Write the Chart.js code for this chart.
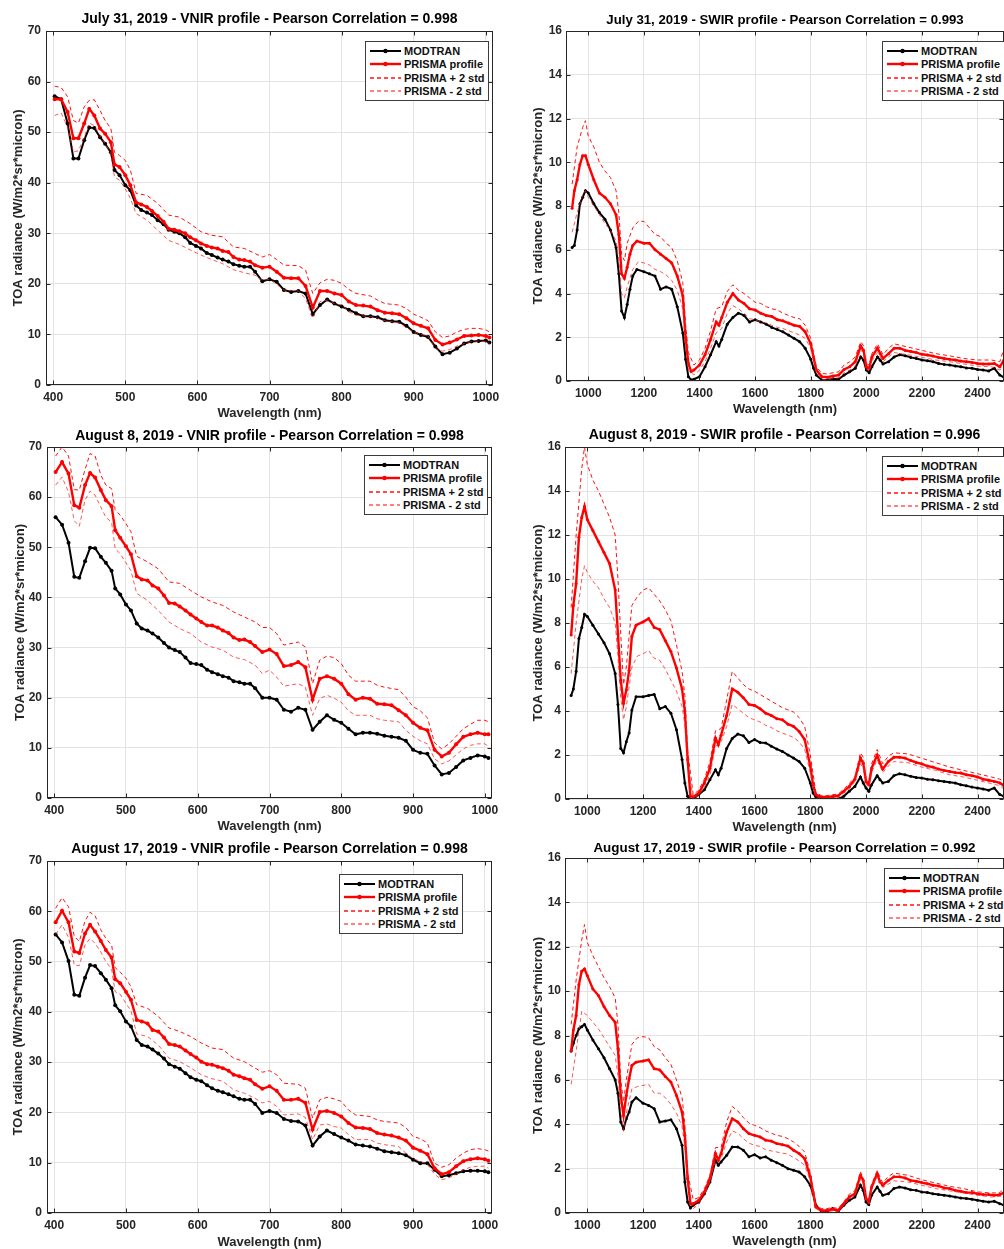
<!DOCTYPE html>
<html><head><meta charset="utf-8">
<script src="https://cdn.jsdelivr.net/npm/chart.js@4.4.0/dist/chart.umd.min.js"></script>
<style>
html,body{margin:0;padding:0;background:#fff;overflow:hidden;width:1004px;height:1249px;position:relative;}
canvas{position:absolute;}
.legend{position:absolute;background:#fff;border:1px solid #3c3c3c;padding:2px 3px 2px 4px;font:bold 11px "Liberation Sans",Arial,sans-serif;color:#111;white-space:nowrap;z-index:5;}
.legend .row{height:13.5px;display:flex;align-items:center;}
.legend svg{margin-right:3px;flex:none;}
</style></head><body>
<script>
// ---------------- DATA ----------------
const panelTitles = [
  'July 31, 2019 - VNIR profile - Pearson Correlation = 0.998',
  'July 31, 2019 - SWIR profile - Pearson Correlation = 0.993',
  'August 8, 2019 - VNIR profile - Pearson Correlation = 0.998',
  'August 8, 2019 - SWIR profile - Pearson Correlation = 0.996',
  'August 17, 2019 - VNIR profile - Pearson Correlation = 0.998',
  'August 17, 2019 - SWIR profile - Pearson Correlation = 0.992'
];
const legendLabels = ['MODTRAN', 'PRISMA profile', 'PRISMA + 2 std', 'PRISMA - 2 std'];
const xAxisTitle = 'Wavelength (nm)';
const yAxisTitle = 'TOA radiance (W/m2*sr*micron)';
const vnirXTicks = [400, 500, 600, 700, 800, 900, 1000];
const vnirYTicks = [0, 10, 20, 30, 40, 50, 60, 70];
const swirXTicks = [1000, 1200, 1400, 1600, 1800, 2000, 2200, 2400];
const swirYTicks = [0, 2, 4, 6, 8, 10, 12, 14, 16];

const vnirWavelength = [402,411,420,428,435,443,450,457,465,472,480,
  485,492,500,507,515,522,530,537,545,553,560,568,575,583,590,598,605,613,620,628,635,643,650,658,665,673,680,
  690,700,710,720,730,740,750,760,770,780,790,800,810,820,830,840,850,860,870,880,890,900,910,920,930,940,950,960,970,980,990,1000,
  1005];
const vnirWavelengthStd = [402,411,420,428,435,443,450,457,465,472,480,
  485,492,500,507,515,
  530,545,560,575,590,605,620,635,650,665,680,
  690,700,710,720,
  740,750,760,770,780,790,800,810,820,
  840,850,860,
  880,890,900,910,920,930,940,950,960,970,980,990,1000,
  1005];
const swirWavelength = [942,950,960,970,980,990,1000,
  1020,1040,1060,1080,1100,
  1110,1120,1130,1140,1150,1160,1175,
  1200,1220,1240,1260,1280,1300,1320,1340,
  1350,1360,1370,1380,
  1400,1420,1440,1460,1470,1480,
  1500,1520,1540,1560,1580,1600,1620,1640,1660,1680,1700,1720,1740,1760,1780,
  1800,1810,1820,
  1840,1860,1880,1900,1920,1940,1960,1980,
  1990,2000,2010,2020,
  2040,2050,2060,
  2080,2100,2120,2140,2160,2180,2200,2220,2240,2260,2280,2300,2320,2340,2360,2380,2400,2420,2440,2460,2480,
  2495];
const swirWavelengthStd = [942,960,980,990,1000,
  1020,1040,1060,1080,1100,
  1110,1120,1130,1140,
  1160,1180,1200,1220,1240,1260,1280,1300,1320,1340,
  1350,1360,
  1380,1400,1420,1440,1460,1480,1500,1520,1540,1560,1580,1600,1620,1640,1660,1680,1700,1720,1740,1760,1780,
  1800,1820,1840,1860,1880,1900,1920,1940,1960,1980,
  1990,2000,2010,2020,
  2040,2060,2080,2100,
  2150,2200,2250,2300,2350,2400,2450,
  2480,2495];

// July 31 VNIR
const jul31VnirModtran = [57.1,56.5,51.7,44.8,44.8,48.4,50.9,50.8,49,47.7,46,
  42.5,41.5,39.5,38.5,35.5,34.6,34.1,33.6,32.6,31.8,30.7,30.3,30,29.2,28.1,27.5,27,26.1,25.7,25.2,24.8,24.4,23.9,23.6,23.4,23.4,22.4,
  20.5,20.9,20.4,18.8,18.4,18.6,18.1,14,15.8,16.9,16.1,15.5,14.9,14.2,13.6,13.6,13.4,12.8,12.6,12.5,11.7,10.5,9.9,9.5,7.6,6.1,6.4,7.2,8.2,8.6,8.7,8.8,
  8.4];
const jul31VnirPrisma = [56.5,56.5,54,48.8,48.8,51.7,54.6,53.3,50.7,49.7,48,
  43.6,43.1,41.5,39.5,36.1,35.7,35.2,34.4,33.4,32.3,30.9,30.7,30.4,30,29.2,28.6,28,27.5,27.2,27,26.5,26.3,25.3,24.8,24.7,24.4,23.7,
  23.2,23.4,22.4,21.2,21.1,21.1,19.6,15.3,18.6,18.6,18.1,17.8,16.5,15.8,15.7,15.5,14.8,14.3,14.2,14,13.2,12.2,11.7,11.2,8.9,8,8.4,9,9.7,9.8,9.9,9.7,
  9.4];
const jul31VnirPlus2std = [59.1,58.8,57,52.3,51.8,55,56.3,56.4,54.3,52.3,50.7,
  46,45.4,44.4,42.5,37.9,
  37.5,35.9,33.6,33.2,31.9,30.3,29.6,29.3,27.3,27,26,
  25.3,25.8,24.8,23.7,
  23.6,22.7,18.1,20.2,20.9,20.7,20.1,18.9,18.1,
  17.6,16.8,16.1,
  15.8,15.1,14,13.4,12.7,10.5,9.4,9.7,10.5,11,11.2,11.2,10.9,
  10.5];
const jul31VnirMinus2std = [53.3,53.8,51,46.1,46.3,49,51.8,51.3,49.4,47.7,45.8,
  41.1,40.5,38.8,36.9,33.9,
  32.6,30.6,28.6,27.8,26.7,25.7,24.8,24,22.8,22.2,21.7,
  20.7,20.9,19.9,18.8,
  18.6,17.1,13.2,16.5,16.8,16.1,15.8,14.5,13.8,
  13.5,13.2,12.7,
  12.3,11.3,10.5,10,9.7,7.2,6.7,7,7.7,8.2,8.6,8.7,8.6,
  8.2];

// August 8 VNIR
const aug08VnirModtran = [56,54.5,50.9,44.1,43.9,47.2,49.9,49.8,48.1,46.9,45.3,
  41.8,40.6,38.6,37.4,34.8,33.8,33.4,32.8,32,30.9,30,29.5,29.1,28,26.9,26.7,26.5,25.6,25.1,24.7,24.3,24,23.3,23.1,22.8,22.8,21.9,
  20,20,19.6,17.6,17.2,18,17.6,13.6,15.2,16.5,15.6,15,13.8,12.7,13,13,12.8,12.4,12.2,12,11.4,9.6,9,8.8,6.5,4.7,5,6.2,7.5,8,8.5,8.3,
  8];
const aug08VnirPrisma = [65,67,64.7,58.4,57.9,62.4,64.8,63.9,61.4,59.4,58.2,
  53.4,51.9,50.2,48.6,44.2,43.6,43.4,42.4,41.8,40.4,38.9,38.8,38.2,37.4,36.6,35.8,35.1,34.4,34.4,34,33.4,32.9,32,31.5,31.6,31.1,30.3,
  29.1,29.6,28.7,26.3,26.5,27.1,26.1,19.6,23.8,24.3,23.8,22.8,20.7,19.6,20,19.8,18.8,18.7,18.5,17.5,16.5,15,14,13.5,9.6,8.3,9,10.7,12.2,12.7,13,12.7,
  12.7];
const aug08VnirPlus2std = [68.2,70,68.2,61.5,61.4,65.5,68.7,68.2,64.4,62.4,61.7,
  57.5,56.4,54.7,53.1,48.2,
  47.1,45.7,43.1,42.8,41.4,40.1,39.1,38.4,37.1,36.1,35.1,
  34,34,32.8,30.5,
  31.1,30.1,22.8,27.5,28.3,28,26.8,24.5,23.3,
  23.3,22.5,22.1,
  21.6,20.1,18.2,17.4,16,11,9.8,10.8,12.3,13.8,14.7,15.5,15.5,
  15.2];
const aug08VnirMinus2std = [62.4,64,61,55.3,54.2,59.4,61.2,60.4,58,56,55,
  49.7,48.7,46.9,45.3,40.8,
  39.4,37.4,35.1,33.8,32.8,31.1,30.1,29.5,28.1,27.6,26.5,
  24.8,25.5,24.1,22.3,
  22.8,22.1,16.5,19.8,20.5,19.9,19.1,17.4,16.5,
  16.5,15.8,15.5,
  15.2,13.5,12.3,11.4,10.8,7.8,6.8,7.4,8.6,9.8,10.5,10.8,10.8,
  10.3];

// August 17 VNIR
const aug17VnirModtran = [55.4,53.8,50.1,43.4,43.2,46.8,49.3,49.1,47.7,46.4,44.7,
  41.3,40.1,38.1,37.1,34.4,33.4,33.1,32.5,31.7,30.7,29.6,29.1,28.7,27.8,27,26.5,26.2,25.4,24.8,24.3,24,23.6,23.2,22.7,22.5,22.5,21.7,
  19.9,20.3,19.9,18.7,18.3,18.2,17.4,13.4,15.2,16.4,15.7,15,14.4,13.6,13.4,13.2,12.8,12.3,12.1,11.9,11.5,10.6,9.9,9.9,8.6,7.3,7.5,7.9,8.3,8.4,8.4,8.3,
  8.1];
const aug17VnirPrisma = [57.8,60.1,57.8,52,51.7,55.6,57.3,56,54.1,52.3,50.8,
  46.5,45.7,44,42.4,38.4,38.1,37.7,36.4,36.1,34.9,33.6,33.4,33.1,32.3,31.6,30.9,30.1,29.6,29.5,29.1,28.8,28.3,27.5,27.2,26.8,26.5,25.6,
  24.7,25.2,24.3,22.5,22.5,22.7,21.9,16.6,20.1,20.3,19.9,19.2,17.9,17,16.9,16.7,15.9,15.6,15.4,15,14.4,13,12.4,11.7,8.9,7.7,8.1,9.3,10.3,10.7,10.9,10.7,
  10.4];
const aug17VnirPlus2std = [60.6,62.7,60.9,55,54,58.1,59.8,59.1,56.3,54.6,53.3,
  48.8,47.9,46.7,45,41.4,
  40.7,39.1,36.8,36.1,35.1,33.8,32.8,32.5,30.8,30.1,28.8,
  28,28.3,27.5,25.8,
  25.6,24.8,18.9,22.5,23,22.7,22.2,20.5,19.5,
  19.2,18.5,18.2,
  17.9,17,15.2,14.8,13.9,9.9,9.1,9.6,10.9,11.9,12.6,12.8,12.6,
  12.3];
const aug17VnirMinus2std = [55.4,57.3,54.8,49.3,49.2,53.3,54.6,53.6,51.9,50,48.5,
  44,43.5,41.7,40.2,35.6,
  35.1,33.4,30.8,30.1,28.9,27.5,26.7,26.2,24.5,23.8,22.8,
  21.9,22.2,21.2,19.5,
  19.7,19,14.6,17.5,17.7,17.2,16.9,15.6,14.6,
  14.6,13.9,13.6,
  13.2,11.9,10.8,10.3,9.7,7.7,6.6,7,7.7,8.6,9.1,9.3,9.3,
  8.9];

// July 31 SWIR
const jul31SwirModtran = [6.1,6.2,6.9,8.1,8.4,8.7,8.6,
  8.1,7.7,7.4,6.9,6.1,
  4.9,3.2,2.9,3.5,4.2,4.8,5.1,
  5.0,4.9,4.8,4.2,4.3,4.2,3.4,2.2,
  1.0,0.2,0.05,0.08,
  0.2,0.65,1.2,1.8,1.6,1.9,
  2.6,2.9,3.1,3.0,2.7,2.8,2.7,2.6,2.45,2.35,2.25,2.1,1.95,1.8,1.5,
  1.0,0.6,0.27,
  0.05,0.05,0.1,0.08,0.27,0.42,0.58,1.1,
  0.95,0.5,0.38,0.65,
  1.1,0.95,0.78,
  0.88,1.1,1.2,1.15,1.08,1.03,0.96,0.93,0.88,0.8,0.76,0.73,0.69,0.65,0.6,0.58,0.53,0.5,0.46,0.58,0.27,
  0.17];
const jul31SwirPrisma = [7.9,8.7,9.2,9.9,10.3,10.3,9.9,
  9.2,8.6,8.4,8.1,7.6,
  6.7,4.9,4.7,5.2,5.8,6.2,6.4,
  6.3,6.3,6.0,5.8,5.6,5.4,4.8,3.9,
  2.0,0.8,0.43,0.5,
  0.73,1.2,1.9,2.7,2.55,2.9,
  3.6,4.0,3.7,3.55,3.3,3.25,3.1,3.0,2.95,2.8,2.75,2.65,2.55,2.5,2.25,
  1.7,1.1,0.5,
  0.2,0.17,0.23,0.27,0.53,0.65,0.88,1.6,
  1.4,0.65,0.58,1.1,
  1.5,1.25,1.03,
  1.25,1.5,1.5,1.4,1.35,1.3,1.22,1.19,1.14,1.08,1.03,0.99,0.96,0.91,0.88,0.85,0.8,0.78,0.78,0.8,0.65,
  0.96];
const jul31SwirPlus2std = [9.0,10.7,11.6,11.9,11.2,
  10.7,10.0,9.6,9.3,8.7,
  7.7,5.8,5.5,6.3,
  7.0,7.3,7.3,7.0,6.7,6.6,6.3,6.1,5.5,4.5,
  2.6,1.3,
  0.73,0.96,1.5,2.3,3.3,3.4,4.1,4.4,4.15,4.0,3.8,3.6,3.55,3.4,3.3,3.25,3.1,3.0,2.9,2.85,2.55,
  1.95,0.65,0.35,0.32,0.38,0.42,0.73,0.88,1.1,1.8,
  1.6,0.8,0.73,1.25,
  1.7,1.2,1.5,1.7,
  1.55,1.4,1.25,1.15,1.03,0.96,0.96,
  0.88,1.5];
const jul31SwirMinus2std = [6.8,7.7,8.5,8.7,8.4,
  8.0,7.6,7.2,6.9,6.4,
  5.5,4.0,3.8,4.3,
  5.1,5.45,5.4,5.3,5.1,5.0,4.85,4.6,4.15,3.3,
  1.55,0.5,
  0.27,0.5,0.88,1.5,2.2,2.4,3.1,3.45,3.3,3.1,2.85,2.8,2.7,2.65,2.55,2.45,2.4,2.3,2.2,2.1,1.95,
  1.5,0.42,0.08,0.05,0.12,0.15,0.38,0.5,0.68,1.5,
  1.2,0.53,0.47,0.93,
  1.3,0.88,1.1,1.3,
  1.2,1.08,0.96,0.88,0.78,0.68,0.65,
  0.5,0.65];

// August 8 SWIR
const aug08SwirModtran = [4.7,5.0,5.8,7.3,7.8,8.4,8.3,
  7.9,7.5,7.1,6.6,5.7,
  4.3,2.3,2.1,2.6,3.0,4.05,4.65,
  4.65,4.7,4.75,4.1,4.2,3.9,3.15,1.8,
  0.73,0.12,0,0,
  0.2,0.42,0.88,1.33,1.1,1.4,
  2.3,2.75,2.95,2.87,2.57,2.7,2.57,2.55,2.4,2.27,2.16,2.0,1.86,1.7,1.4,
  0.73,0.27,0.1,
  0,0,0.03,0,0.12,0.35,0.57,1.0,
  0.73,0.5,0.35,0.65,
  1.06,0.88,0.73,
  0.8,1.06,1.15,1.1,1.03,0.98,0.95,0.9,0.88,0.83,0.8,0.76,0.73,0.65,0.6,0.54,0.5,0.45,0.4,0.5,0.2,
  0.12];
const aug08SwirPrisma = [7.45,8.8,9.8,11.9,12.8,13.3,12.7,
  12.2,11.7,11.2,10.7,9.5,
  7.5,5.4,4.35,4.95,5.85,7.4,7.9,
  8.05,8.2,7.8,7.7,7.2,6.7,5.95,5.0,
  4.0,1.8,0.12,0.09,
  0.27,0.73,1.4,2.77,2.47,2.9,
  3.8,5.0,4.85,4.6,4.3,4.25,4.1,3.9,3.8,3.65,3.6,3.4,3.3,3.07,2.7,
  1.5,0.65,0.2,
  0.09,0.09,0.12,0.15,0.35,0.57,0.9,1.86,
  1.63,0.8,0.65,1.4,
  2.0,1.63,1.36,
  1.7,1.9,1.9,1.86,1.75,1.66,1.6,1.5,1.45,1.36,1.3,1.25,1.2,1.18,1.1,1.06,1.0,0.9,0.85,0.8,0.73,
  0.6];
const aug08SwirPlus2std = [8.7,12.0,15.0,16.0,15.2,
  14.5,14.0,13.4,12.8,12.0,
  10.0,7.5,5.2,6.0,
  8.8,9.2,9.5,9.6,9.3,9.0,8.6,8.1,7.0,5.8,
  4.7,2.2,
  0.2,0.4,0.9,1.7,3.1,3.2,4.5,5.8,5.5,5.2,5.0,4.9,4.75,4.6,4.45,4.3,4.15,4.05,3.95,3.7,3.3,
  2.0,0.3,0.15,0.15,0.2,0.22,0.45,0.7,1.0,2.1,
  1.9,0.9,0.75,1.6,
  2.25,1.6,1.95,2.1,
  2.05,1.85,1.65,1.45,1.3,1.15,1.0,
  0.9,0.8];
const aug08SwirMinus2std = [5.7,8.0,10.0,10.6,10.3,
  9.9,9.6,9.1,8.7,8.0,
  6.5,4.6,3.6,4.2,
  6.0,6.5,6.6,6.75,6.4,6.3,5.9,5.4,4.9,4.2,
  3.4,1.5,
  0.05,0.15,0.55,1.1,2.4,2.6,3.3,4.3,4.1,3.9,3.7,3.6,3.5,3.35,3.25,3.1,3.0,2.9,2.8,2.6,2.25,
  1.2,0.1,0.03,0.03,0.05,0.08,0.25,0.45,0.8,1.6,
  1.4,0.7,0.55,1.2,
  1.8,1.2,1.5,1.7,
  1.65,1.45,1.3,1.1,1.0,0.85,0.7,
  0.6,0.45];

// August 17 SWIR
const aug17SwirModtran = [7.3,7.65,8.0,8.3,8.4,8.5,8.25,
  7.8,7.4,7.0,6.5,6.0,
  5.4,4.1,3.8,4.25,4.55,5.0,5.2,
  4.95,4.85,4.7,4.1,4.15,4.2,3.8,3.05,
  1.4,0.5,0.23,0.35,
  0.5,0.87,1.4,2.38,2.15,2.3,
  2.6,2.98,2.98,2.83,2.53,2.63,2.48,2.53,2.38,2.27,2.15,2.0,1.93,1.85,1.63,
  1.25,0.87,0.35,
  0.08,0.08,0.2,0.08,0.35,0.57,0.72,1.25,
  1.02,0.5,0.38,0.8,
  1.17,0.98,0.8,
  0.87,1.1,1.17,1.13,1.05,1.02,0.95,0.92,0.87,0.83,0.8,0.77,0.72,0.68,0.65,0.62,0.57,0.53,0.5,0.53,0.42,
  0.35];
const aug17SwirPrisma = [7.3,8.25,8.9,10.3,10.9,11.0,10.7,
  10.1,9.8,9.3,8.9,8.6,
  7.4,5.3,4.4,5.3,6.05,6.65,6.8,
  6.85,6.9,6.5,6.45,6.15,5.9,5.3,4.55,
  3.5,1.55,0.42,0.42,
  0.57,0.95,1.55,2.68,2.38,2.68,
  3.65,4.25,4.1,3.8,3.58,3.5,3.43,3.28,3.24,3.13,3.08,3.02,2.83,2.68,2.45,
  1.63,0.95,0.27,
  0.12,0.12,0.17,0.12,0.42,0.72,0.87,1.7,
  1.47,0.65,0.5,1.17,
  1.78,1.4,1.25,
  1.47,1.63,1.63,1.58,1.47,1.43,1.37,1.32,1.25,1.22,1.13,1.1,1.02,0.98,0.92,0.92,0.87,0.83,0.83,0.8,0.83,
  0.92];
const aug17SwirPlus2std = [8.5,10.5,12.3,13.0,12.2,
  11.6,11.1,10.6,10.2,9.7,
  8.5,6.0,5.0,6.0,
  7.6,7.9,7.95,7.9,7.5,7.35,7.0,6.7,6.0,5.2,
  4.0,1.8,
  0.6,0.7,1.1,1.7,2.95,2.95,4.1,4.8,4.6,4.3,4.05,3.95,3.85,3.7,3.6,3.5,3.45,3.35,3.2,3.0,2.75,
  1.8,0.32,0.2,0.2,0.25,0.2,0.5,0.85,1.0,1.85,
  1.6,0.75,0.6,1.3,
  1.9,1.35,1.65,1.8,
  1.7,1.5,1.35,1.2,1.1,0.95,0.9,
  0.92,1.1];
const aug17SwirMinus2std = [5.8,7.3,9.1,9.0,8.9,
  8.6,8.3,7.9,7.5,7.1,
  6.2,4.6,3.7,4.5,
  5.6,5.7,5.75,5.8,5.4,5.4,5.2,4.9,4.5,3.9,
  3.0,1.3,
  0.2,0.4,0.8,1.4,2.4,2.45,3.2,3.7,3.6,3.35,3.15,3.05,3.0,2.85,2.8,2.75,2.7,2.65,2.5,2.35,2.15,
  1.45,0.2,0.05,0.05,0.1,0.05,0.35,0.6,0.75,1.55,
  1.35,0.55,0.4,1.05,
  1.65,1.15,1.3,1.45,
  1.4,1.25,1.1,1.0,0.9,0.8,0.72,
  0.75,0.75];

// ---------------- LAYOUT / STYLE ----------------
const FONT = '"Liberation Sans", Arial, Helvetica, sans-serif';
const GRID = '#e3e3e3';
const AXIS = '#262626';

function zip(xs, ys) { return xs.map((x, i) => ({ x: x, y: ys[i] })); }

const vnir = { xMin: 390, xMax: 1010, yMax: 70, xTicks: vnirXTicks, yTicks: vnirYTicks, xs: vnirWavelength, xd: vnirWavelengthStd, pr: 2 };
const swir = { xMin: 920, xMax: 2495, yMax: 16, xTicks: swirXTicks, yTicks: swirYTicks, xs: swirWavelength, xd: swirWavelengthStd, pr: 1.5 };

const panels = [
  { kind: vnir, title: panelTitles[0], tSize: 14, left: 0, top: 0, w: 539, h: 422, cl: 46, cr: 493, ct: 31, cb: 385, tY: 19, xtY: 413, ytX: 18, yPad: 5,
    series: [jul31VnirModtran, jul31VnirPrisma, jul31VnirPlus2std, jul31VnirMinus2std], lg: { left: 365, top: 41 } },
  { kind: swir, title: panelTitles[1], tSize: 13.2, left: 505, top: 0, w: 566, h: 422, cl: 566, cr: 1004, ct: 31, cb: 381, tY: 20, xtY: 409, ytX: 538, yPad: 4,
    series: [jul31SwirModtran, jul31SwirPrisma, jul31SwirPlus2std, jul31SwirMinus2std], lg: { left: 882, top: 41 } },
  { kind: vnir, title: panelTitles[2], tSize: 14, left: 0, top: 420, w: 539, h: 415, cl: 47, cr: 492, ct: 447, cb: 798, tY: 436, xtY: 826, ytX: 20, yPad: 5,
    series: [aug08VnirModtran, aug08VnirPrisma, aug08VnirPlus2std, aug08VnirMinus2std], lg: { left: 364, top: 455 } },
  { kind: swir, title: panelTitles[3], tSize: 14, left: 505, top: 420, w: 566, h: 415, cl: 565, cr: 1004, ct: 447, cb: 799, tY: 435, xtY: 827, ytX: 538, yPad: 4,
    series: [aug08SwirModtran, aug08SwirPrisma, aug08SwirPlus2std, aug08SwirMinus2std], lg: { left: 882, top: 456 } },
  { kind: vnir, title: panelTitles[4], tSize: 14, left: 0, top: 835, w: 539, h: 416, cl: 47, cr: 492, ct: 861, cb: 1213, tY: 849, xtY: 1242, ytX: 18, yPad: 5,
    series: [aug17VnirModtran, aug17VnirPrisma, aug17VnirPlus2std, aug17VnirMinus2std], lg: { left: 339, top: 874 } },
  { kind: swir, title: panelTitles[5], tSize: 13.4, left: 505, top: 835, w: 566, h: 416, cl: 565, cr: 1004, ct: 858, cb: 1213, tY: 848, xtY: 1241, ytX: 538, yPad: 4,
    series: [aug17SwirModtran, aug17SwirPrisma, aug17SwirPlus2std, aug17SwirMinus2std], lg: { left: 884, top: 868 } }
];

const framePlugin = {
  id: 'frame',
  afterDatasetsDraw(chart) {
    const { ctx, chartArea: a, scales } = chart;
    ctx.save();
    ctx.strokeStyle = AXIS;
    ctx.lineWidth = 1;
    const L = Math.round(a.left) + 0.5, R = Math.round(a.right) - 0.5, T = Math.round(a.top) + 0.5, B = Math.round(a.bottom) - 0.5;
    ctx.beginPath();
    scales.x.ticks.forEach(t => {
      const px = Math.round(scales.x.getPixelForValue(t.value)) + 0.5;
      ctx.moveTo(px, B); ctx.lineTo(px, B - 4);
      ctx.moveTo(px, T); ctx.lineTo(px, T + 4);
    });
    scales.y.ticks.forEach(t => {
      const py = Math.round(scales.y.getPixelForValue(t.value)) + 0.5;
      ctx.moveTo(L, py); ctx.lineTo(L + 4, py);
      ctx.moveTo(R, py); ctx.lineTo(R - 4, py);
    });
    ctx.stroke();
    ctx.strokeRect(L, T, R - L, B - T);
    ctx.restore();
  }
};

const lineStyles = [
  { color: '#000000', width: 2, dash: [], marker: true },
  { color: '#ff0000', width: 2.4, dash: [], marker: true },
  { color: '#ff1010', width: 1, dash: [4, 3], marker: false },
  { color: 'rgba(255,30,30,0.75)', width: 1, dash: [4, 3], marker: false }
];

function legendSvg(s) {
  const dash = s.dash.length ? `stroke-dasharray="${s.dash.join(',')}"` : '';
  const sw = s.marker ? s.width : 1.3;
  return `<svg width="31" height="10" viewBox="0 0 31 10"><line x1="0" y1="5" x2="31" y2="5" stroke="${s.color}" stroke-width="${sw}" ${dash}/>` +
    (s.marker ? `<circle cx="15.5" cy="5" r="2.2" fill="${s.color}"/>` : '') + `</svg>`;
}

panels.forEach((p, idx) => {
  const k = p.kind;
  const cv = document.createElement('canvas');
  cv.width = p.w; cv.height = p.h;
  cv.style.left = p.left + 'px'; cv.style.top = p.top + 'px';
  cv.style.width = p.w + 'px'; cv.style.height = p.h + 'px';
  document.body.appendChild(cv);

  const clRel = p.cl - p.left, crRel = p.cr - p.left, ctRel = p.ct - p.top, cbRel = p.cb - p.top;
  const tYRel = p.tY - p.top, xtYRel = p.xtY - p.top, ytXRel = p.ytX - p.left;
  const titleLH = p.tSize * 1.2, axLH = 13 * 1.2;

  const datasets = p.series.map((vals, i) => {
    const s = lineStyles[i];
    const xs = i < 2 ? k.xs : k.xd;
    return {
      label: legendLabels[i],
      data: zip(xs, vals),
      borderColor: s.color,
      backgroundColor: s.color,
      borderWidth: s.width,
      borderDash: s.dash,
      pointRadius: s.marker ? k.pr : 0,
      pointBorderWidth: 0,
      pointHoverRadius: 0,
      tension: 0,
      order: 4 - i
    };
  });

  const tickFont = { family: FONT, size: 12, weight: 'bold' };
  const titleFont = { family: FONT, size: p.tSize, weight: 'bold' };
  const axTitleFont = { family: FONT, size: 13, weight: 'bold' };

  new Chart(cv, {
    type: 'line',
    data: { datasets },
    plugins: [framePlugin],
    options: {
      responsive: false, animation: false, devicePixelRatio: 1,
      layout: { padding: { left: 0, top: 0, right: p.w - crRel, bottom: 0 } },
      plugins: {
        legend: { display: false },
        tooltip: { enabled: false },
        title: {
          display: true, text: p.title, fullSize: false, color: '#000', font: titleFont,
          padding: { top: tYRel - titleLH / 2, bottom: ctRel - tYRel - titleLH / 2 }
        }
      },
      scales: {
        x: {
          type: 'linear', min: k.xMin, max: k.xMax,
          afterBuildTicks: s => { s.ticks = k.xTicks.map(v => ({ value: v })); },
          afterFit: s => { s.height = p.h - cbRel; },
          grid: { color: GRID, drawTicks: false, lineWidth: 1 },
          border: { display: false },
          ticks: { padding: 5, color: AXIS, font: tickFont, maxRotation: 0, autoSkip: false, callback: v => String(v) },
          title: { display: true, text: xAxisTitle, color: AXIS, font: axTitleFont, padding: { top: 0, bottom: Math.max(0, p.h - xtYRel - axLH / 2) } }
        },
        y: {
          type: 'linear', min: 0, max: k.yMax,
          afterBuildTicks: s => { s.ticks = k.yTicks.map(v => ({ value: v })); },
          afterFit: s => { s.width = clRel; },
          grid: { color: GRID, drawTicks: false, lineWidth: 1 },
          border: { display: false },
          ticks: { padding: p.yPad, color: AXIS, font: tickFont, autoSkip: false, callback: v => String(v) },
          title: { display: true, text: yAxisTitle, color: AXIS, font: axTitleFont, padding: { top: Math.max(0, ytXRel - axLH / 2), bottom: 0 } }
        }
      }
    }
  });

  const lg = document.createElement('div');
  lg.className = 'legend';
  lg.style.left = p.lg.left + 'px';
  lg.style.top = p.lg.top + 'px';
  lg.innerHTML = legendLabels.map((lab, i) => `<div class="row">${legendSvg(lineStyles[i])}<span>${lab}</span></div>`).join('');
  document.body.appendChild(lg);
});
</script>
</body></html>
